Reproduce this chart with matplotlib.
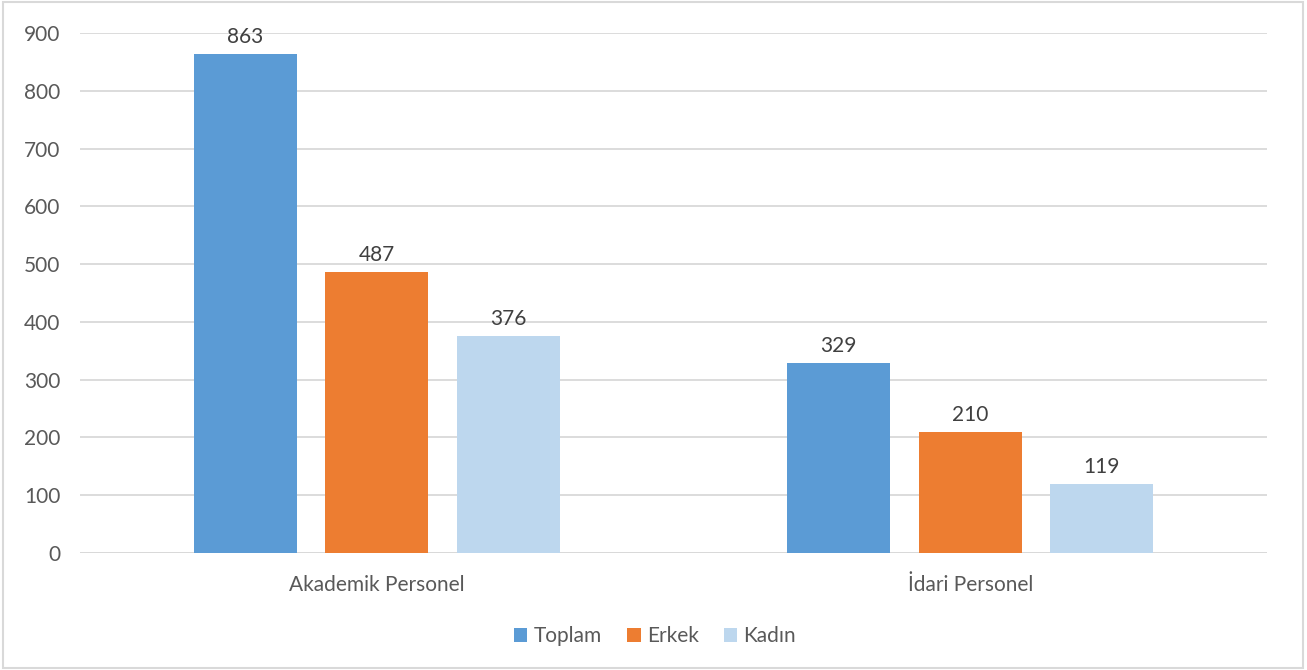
import matplotlib
matplotlib.use("Agg")
import matplotlib.pyplot as plt
import matplotlib.patches as mpatches
import numpy as np

plt.rcParams["font.family"] = ["Lato", "DejaVu Sans"]

categories = ["Akademik Personel", "İdari Personel"]
series = ["Toplam", "Erkek", "Kadın"]
toplam = [863, 329]
erkek = [487, 210]
kadin = [376, 119]
colors = ["#5B9BD5", "#ED7D31", "#BDD7EE"]

fig = plt.figure(figsize=(13.07, 6.70), dpi=100)
ax = fig.add_axes([80 / 1307, 117 / 670, 1187 / 1307, 520 / 670])

x = np.arange(len(categories))
width = 0.1735
step = 0.2215
for i, (name, vals) in enumerate(zip(series, [toplam, erkek, kadin])):
    bars = ax.bar(x + (i - 1) * step, vals, width, color=colors[i], label=name, zorder=3)
    for b, v in zip(bars, vals):
        ax.text(b.get_x() + b.get_width() / 2, v + 12, str(v), ha="center", va="bottom",
                fontsize=15, color="#404040")

ax.set_xlim(-0.5, 1.5)
ax.set_ylim(0, 900)
ax.set_yticks(range(0, 901, 100))
ax.grid(axis="y", color="#D9D9D9", lw=1.3, zorder=0)
for s in ax.spines.values():
    s.set_visible(False)
ax.axhline(0, color="#D9D9D9", lw=1.3, zorder=2)
ax.tick_params(length=0, labelsize=15, labelcolor="#595959")
ax.tick_params(axis="y", pad=14)
ax.tick_params(axis="x", pad=16)
ax.set_xticks(x)
ax.set_xticklabels(categories)

fig.legend(loc="center", bbox_to_anchor=(655 / 1307, 1 - 636 / 670), ncol=3, frameon=False,
           fontsize=15, handlelength=0.65, handleheight=0.65, handletextpad=0.3,
           columnspacing=1.2, labelcolor="#595959")

fig.add_artist(mpatches.Rectangle((0.002, 0.003), 0.995, 0.994, transform=fig.transFigure,
                                  fill=False, edgecolor="#D9D9D9", lw=1.5))

fig.savefig("out.png", dpi=100, facecolor="white")
